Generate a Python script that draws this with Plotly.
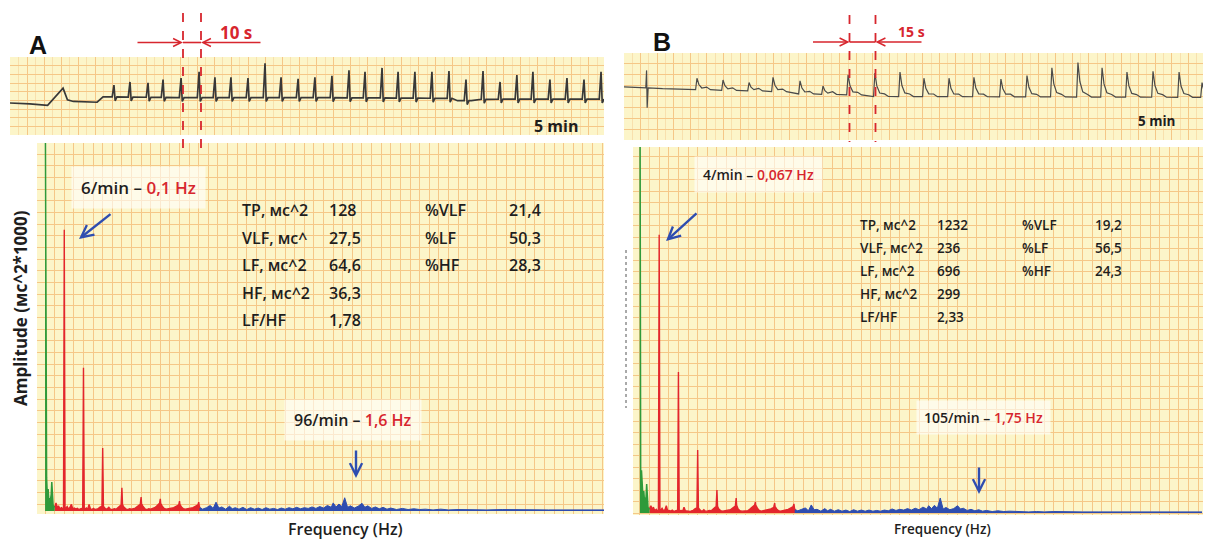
import numpy as np
import plotly.graph_objects as go

W, H = 1210, 542
def PX(x): return x / W
def PY(y): return 1 - y / H

# ---------------- DATA ----------------
# Panel A – recording (time in s, amplitude in arbitrary units)
base_t_a = [0, 10, 19, 23, 26.8, 29, 32, 44, 47, 84, 150, 222, 226, 233, 240, 300]
base_v_a = [0.41, 0.40, 0.38, 0.50, 0.60, 0.45, 0.43, 0.42, 0.49, 0.48, 0.48, 0.47, 0.44, 0.44, 0.46, 0.46]
spike_t_a = [52.5, 60.6, 69.7, 77.3, 86.4, 95.5, 103.5, 111.6, 120.2, 128.8, 136.9, 145.5, 154.0,
             162.6, 171.2, 179.3, 187.9, 196.0, 204.5, 213.1, 221.7, 230.3, 238.9, 247.5, 256.0,
             264.1, 272.7, 281.3, 289.9, 298.5]
spike_h_a = [0.64, 0.68, 0.67, 0.71, 0.73, 0.81, 0.74, 0.74, 0.73, 0.92, 0.74, 0.72, 0.74,
             0.76, 0.83, 0.81, 0.86, 0.81, 0.81, 0.81, 0.82, 0.71, 0.82, 0.68, 0.77,
             0.81, 0.71, 0.73, 0.71, 0.81]

# Panel B – recording
base_t_b = [0, 11.3, 11.7, 12.0, 12.5, 20, 50, 75, 90, 115, 130, 300]
base_v_b = [0.61, 0.60, 0.80, 0.37, 0.60, 0.59, 0.57, 0.56, 0.53, 0.52, 0.50, 0.49]
spike_t_b = [37.8, 51.3, 64.8, 77.2, 91.2, 103.1, 116.1, 130.0, 143.0, 155.4, 168.4, 181.3,
             195.3, 208.8, 221.7, 235.2, 247.7, 260.6, 274.1, 287.6, 299.5]
spike_h_b = [0.71, 0.69, 0.66, 0.72, 0.68, 0.62, 0.75, 0.77, 0.78, 0.71, 0.71, 0.72,
             0.70, 0.74, 0.83, 0.89, 0.83, 0.78, 0.79, 0.78, 0.66]

# Spectra (frequency in Hz, amplitude in relative units)
vlf_f = [0.000, 0.004, 0.008, 0.012, 0.016, 0.020, 0.024, 0.028, 0.032, 0.035, 0.038, 0.042, 0.046, 0.050]
vlf_amp_a = [1.30, 0.117, 0.090, 0.040, 0.060, 0.025, 0.035, 0.030, 0.045, 0.079, 0.025, 0.015, 0.012, 0.010]
vlf_amp_b = [1.30, 0.080, 0.117, 0.050, 0.040, 0.060, 0.030, 0.035, 0.045, 0.079, 0.030, 0.015, 0.012, 0.010]

lf_peak_f = [0.1, 0.2, 0.3, 0.4, 0.5, 0.6, 0.7, 0.8]
lf_peak_amp_a = [0.764, 0.389, 0.171, 0.063, 0.038, 0.033, 0.027, 0.024]
lf_peak_amp_b = [0.760, 0.385, 0.172, 0.063, 0.041, 0.030, 0.027, 0.025]

lf_floor_f = [0.050, 0.057, 0.064, 0.070, 0.077, 0.085, 0.092, 0.108, 0.115, 0.122, 0.130, 0.137,
              0.144, 0.152, 0.160, 0.168, 0.176, 0.184, 0.192, 0.208, 0.215, 0.222, 0.229, 0.236,
              0.244, 0.252, 0.260, 0.268, 0.276, 0.284, 0.292, 0.308, 0.316, 0.324, 0.332, 0.340,
              0.350, 0.360, 0.370, 0.380, 0.390, 0.396, 0.404, 0.410, 0.420, 0.430, 0.440, 0.450,
              0.460, 0.470, 0.480, 0.490, 0.496, 0.504, 0.510, 0.520, 0.530, 0.540, 0.550, 0.560,
              0.570, 0.580, 0.590, 0.596, 0.604, 0.610, 0.620, 0.630, 0.640, 0.650, 0.660, 0.670,
              0.680, 0.690, 0.696, 0.704, 0.710, 0.720, 0.730, 0.740, 0.750, 0.760, 0.770, 0.780,
              0.790, 0.796, 0.804]
lf_floor_amp_a = [0.010, 0.022, 0.008, 0.014, 0.006, 0.009, 0.006, 0.007, 0.012, 0.005, 0.010, 0.018,
                  0.006, 0.008, 0.005, 0.007, 0.004, 0.006, 0.008, 0.005, 0.008, 0.004, 0.018, 0.006,
                  0.004, 0.007, 0.004, 0.005, 0.006, 0.010, 0.012, 0.010, 0.005, 0.006, 0.010, 0.005,
                  0.004, 0.006, 0.005, 0.010, 0.014, 0.018, 0.016, 0.011, 0.006, 0.004, 0.006, 0.005,
                  0.006, 0.008, 0.012, 0.016, 0.020, 0.018, 0.012, 0.006, 0.004, 0.006, 0.005, 0.006,
                  0.009, 0.013, 0.018, 0.021, 0.019, 0.013, 0.007, 0.005, 0.006, 0.005, 0.007, 0.009,
                  0.012, 0.015, 0.017, 0.016, 0.011, 0.006, 0.005, 0.006, 0.006, 0.007, 0.009, 0.012,
                  0.015, 0.017, 0.014]
lf_floor_amp_b = [0.012, 0.020, 0.009, 0.016, 0.006, 0.010, 0.005, 0.008, 0.013, 0.006, 0.009, 0.020,
                  0.006, 0.007, 0.005, 0.008, 0.004, 0.006, 0.009, 0.006, 0.007, 0.005, 0.016, 0.006,
                  0.005, 0.006, 0.004, 0.006, 0.007, 0.011, 0.013, 0.011, 0.006, 0.005, 0.009, 0.005,
                  0.005, 0.007, 0.006, 0.011, 0.015, 0.019, 0.017, 0.011, 0.006, 0.005, 0.006, 0.006,
                  0.007, 0.009, 0.013, 0.017, 0.021, 0.019, 0.011, 0.006, 0.005, 0.006, 0.005, 0.006,
                  0.010, 0.014, 0.019, 0.022, 0.020, 0.013, 0.007, 0.005, 0.006, 0.006, 0.007, 0.009,
                  0.011, 0.014, 0.018, 0.016, 0.011, 0.006, 0.005, 0.006, 0.007, 0.008, 0.010, 0.013,
                  0.016, 0.018, 0.013]

hf_points_a = [(0.800, 0.012), (0.820, 0.005), (0.840, 0.009), (0.860, 0.015), (0.875, 0.007),
               (0.890, 0.024), (0.905, 0.008), (0.920, 0.011), (0.940, 0.005), (0.960, 0.013),
               (0.975, 0.006), (0.990, 0.009), (1.010, 0.005), (1.030, 0.010), (1.050, 0.004),
               (1.070, 0.009), (1.090, 0.005), (1.110, 0.008), (1.130, 0.004), (1.150, 0.009),
               (1.170, 0.005), (1.190, 0.007), (1.210, 0.004), (1.230, 0.008), (1.250, 0.005),
               (1.270, 0.009), (1.290, 0.006), (1.310, 0.010), (1.330, 0.006), (1.350, 0.009),
               (1.370, 0.007), (1.390, 0.011), (1.410, 0.007), (1.430, 0.012), (1.450, 0.008),
               (1.470, 0.015), (1.490, 0.010), (1.500, 0.022), (1.515, 0.011), (1.530, 0.019),
               (1.545, 0.012), (1.560, 0.036), (1.575, 0.010), (1.590, 0.014), (1.610, 0.008),
               (1.630, 0.013), (1.650, 0.021), (1.665, 0.010), (1.680, 0.014), (1.700, 0.007),
               (1.720, 0.011), (1.740, 0.006), (1.760, 0.010), (1.780, 0.005), (1.800, 0.008),
               (1.830, 0.004), (1.860, 0.007), (1.890, 0.004), (1.920, 0.006), (1.950, 0.004),
               (1.980, 0.005), (2.020, 0.003), (2.060, 0.005), (2.100, 0.003), (2.150, 0.004),
               (2.200, 0.003), (2.250, 0.004), (2.300, 0.003), (2.380, 0.004), (2.460, 0.003),
               (2.540, 0.003), (2.620, 0.003), (2.700, 0.003), (2.780, 0.003), (2.860, 0.003),
               (2.920, 0.003)]
hf_points_b = [(0.800, 0.011), (0.820, 0.006), (0.840, 0.010), (0.860, 0.014), (0.875, 0.006),
               (0.890, 0.022), (0.905, 0.009), (0.920, 0.010), (0.940, 0.005), (0.960, 0.012),
               (0.975, 0.006), (0.990, 0.010), (1.010, 0.005), (1.030, 0.009), (1.050, 0.005),
               (1.070, 0.008), (1.090, 0.004), (1.110, 0.009), (1.130, 0.005), (1.150, 0.008),
               (1.170, 0.005), (1.190, 0.008), (1.210, 0.005), (1.230, 0.007), (1.250, 0.005),
               (1.270, 0.008), (1.290, 0.006), (1.310, 0.011), (1.330, 0.007), (1.350, 0.010),
               (1.370, 0.008), (1.390, 0.012), (1.410, 0.008), (1.430, 0.013), (1.450, 0.009),
               (1.470, 0.016), (1.490, 0.011), (1.500, 0.020), (1.515, 0.012), (1.530, 0.021),
               (1.545, 0.013), (1.560, 0.041), (1.575, 0.011), (1.590, 0.015), (1.610, 0.009),
               (1.630, 0.012), (1.650, 0.020), (1.665, 0.011), (1.680, 0.013), (1.700, 0.007),
               (1.720, 0.010), (1.740, 0.006), (1.760, 0.009), (1.780, 0.005), (1.800, 0.007),
               (1.830, 0.004), (1.860, 0.006), (1.890, 0.004), (1.920, 0.005), (1.950, 0.004),
               (1.980, 0.005), (2.020, 0.003), (2.060, 0.004), (2.100, 0.003), (2.150, 0.004),
               (2.200, 0.003), (2.250, 0.003), (2.300, 0.003), (2.380, 0.003), (2.460, 0.003),
               (2.540, 0.003), (2.620, 0.003), (2.700, 0.003), (2.780, 0.003), (2.860, 0.003),
               (2.920, 0.003)]

stat_labels_a = ["TP, мс^2", "VLF, мс^", "LF, мс^2", "HF, мс^2", "LF/HF"]
stat_values_a = ["128", "27,5", "64,6", "36,3", "1,78"]
stat_labels_b = ["TP, мс^2", "VLF, мс^2", "LF, мс^2", "HF, мс^2", "LF/HF"]
stat_values_b = ["1232", "236", "696", "299", "2,33"]
pct_labels = ["%VLF", "%LF", "%HF"]
pct_values_a = ["21,4", "50,3", "28,3"]
pct_values_b = ["19,2", "56,5", "24,3"]

# ---------------- helpers ----------------
def sharp_trace(bt, bv, st, sh):
    pts = [(t, v) for t, v in zip(bt, bv) if all(abs(t - s) > 2 for s in st)]
    for t, h in zip(st, sh):
        b = float(np.interp(t, bt, bv))
        pts += [(t - 0.9, b), (t, h), (t + 0.6, b - 0.05), (t + 1.5, b)]
    pts.sort()
    return [p[0] for p in pts], [p[1] for p in pts]

def fin_trace(bt, bv, st, sh):
    pts = [(t, v) for t, v in zip(bt, bv) if all(abs(t - s) > 7 for s in st)]
    for t, h in zip(st, sh):
        b = float(np.interp(t, bt, bv))
        pts += [(t - 0.7, b), (t, h), (t + 1.0, b + 0.45 * (h - b)),
                (t + 2.5, b + 0.15 * (h - b)), (t + 5, b + 0.03), (t + 7, b)]
    pts.sort()
    return [p[0] for p in pts], [p[1] for p in pts]

def lf_series(ff, fa, pf, pa):
    pts = list(zip(ff, fa))
    for f, a in zip(pf, pa):
        pts += [(f - 0.004, 0.008), (f, a), (f + 0.004, 0.008)]
    pts.sort()
    return [p[0] for p in pts], [p[1] for p in pts]

RED = "#e3262c"
GREEN = "#2f9a3a"
BLUE = "#2e4db0"
BG = "#fcf5c9"
GRID = "#f5c787"

fig = go.Figure()

ta_x, ta_y = sharp_trace(base_t_a, base_v_a, spike_t_a, spike_h_a)
tb_x, tb_y = fin_trace(base_t_b, base_v_b, spike_t_b, spike_h_b)
fig.add_trace(go.Scatter(x=ta_x, y=ta_y, mode="lines", line=dict(color="#383838", width=1.7),
                         xaxis="x", yaxis="y", showlegend=False))
fig.add_trace(go.Scatter(x=tb_x, y=tb_y, mode="lines", line=dict(color="#4a4a4a", width=1.2),
                         xaxis="x3", yaxis="y3", showlegend=False))

for (xa, ya, vamp, pamp, famp, hpts) in [("x2", "y2", vlf_amp_a, lf_peak_amp_a, lf_floor_amp_a, hf_points_a),
                                         ("x4", "y4", vlf_amp_b, lf_peak_amp_b, lf_floor_amp_b, hf_points_b)]:
    lx, ly = lf_series(lf_floor_f, famp, lf_peak_f, pamp)
    hx = [p[0] for p in hpts]
    hy = [p[1] for p in hpts]
    fig.add_trace(go.Scatter(x=hx, y=hy, mode="lines", fill="tozeroy", fillcolor=BLUE,
                             line=dict(color=BLUE, width=1), xaxis=xa, yaxis=ya, showlegend=False))
    fig.add_trace(go.Scatter(x=lx, y=ly, mode="lines", fill="tozeroy", fillcolor=RED,
                             line=dict(color=RED, width=1.4), xaxis=xa, yaxis=ya, showlegend=False))
    fig.add_trace(go.Scatter(x=vlf_f, y=vamp, mode="lines", fill="tozeroy", fillcolor=GREEN,
                             line=dict(color=GREEN, width=1.5), xaxis=xa, yaxis=ya, showlegend=False))

def ax(domain, rng, dtick, tick0=0, minor=None, anchor=None):
    d = dict(domain=domain, range=rng, showticklabels=False, zeroline=False, showline=False,
             ticks="", showgrid=True, gridcolor=GRID, gridwidth=1, dtick=dtick, tick0=tick0,
             fixedrange=True)
    if minor:
        d["minor"] = dict(dtick=minor, showgrid=True, gridcolor="#f8e0ad", gridwidth=1, ticks="")
    if anchor:
        d["anchor"] = anchor
    return d

layout = dict(
    width=W, height=H, margin=dict(l=0, r=0, t=0, b=0),
    paper_bgcolor="white", plot_bgcolor=BG, showlegend=False,
    xaxis=ax([PX(10), PX(604)], [0, 300], 8.6, minor=4.3, anchor="y"),
    yaxis=ax([PY(135), PY(57)], [0, 1], 1 / 9, anchor="x"),
    xaxis2=ax([PX(37), PX(604)], [-0.042, 2.91], 0.05, anchor="y2"),
    yaxis2=ax([PY(514), PY(143)], [-3 / 368, 1.0], 0.0317, tick0=0.019, anchor="x2"),
    xaxis3=ax([PX(624), PX(1203)], [0, 300], 8.6, minor=4.3, anchor="y3"),
    yaxis3=ax([PY(140), PY(53)], [0, 1], 0.125, anchor="x3"),
    xaxis4=ax([PX(633), PX(1203)], [-0.036, 2.925], 0.05, anchor="y4"),
    yaxis4=ax([PY(515), PY(147)], [-2 / 366, 1.0], 0.0314, anchor="x4"),
)
fig.update_layout(**layout)

FONT = "Open Sans, Noto Sans, sans-serif"
DARK = "#1e1e1e"
TRED = "#d7262e"
anns = []

def txt(x, y, text, size, color=DARK, weight=600, xanchor="center", family=FONT, **kw):
    anns.append(dict(x=PX(x), y=PY(y), xref="paper", yref="paper", text=text, showarrow=False,
                     xanchor=xanchor, yanchor="middle",
                     font=dict(family=family, size=size, color=color, weight=weight), **kw))

def arrow(tipx, tipy, tailx, taily, color, width, head=5, size=1.0):
    anns.append(dict(x=PX(tipx), y=PY(tipy), xref="paper", yref="paper", text="", showarrow=True,
                     axref="pixel", ayref="pixel", ax=tailx - tipx, ay=taily - tipy,
                     arrowhead=head, arrowsize=size, arrowwidth=width, arrowcolor=color, standoff=0))

# Panel letters
txt(38, 45, "A", 25, color="#111", weight=700, family="Liberation Sans, Arial, sans-serif")
txt(662, 42, "B", 25, color="#111", weight=700, family="Liberation Sans, Arial, sans-serif")

# Time marks
txt(236, 33, "10 s", 17, color=TRED, weight=700)
txt(911, 32, "15 s", 14, color=TRED, weight=700)
arrow(183, 42.5, 136, 42.5, TRED, 1.6)
arrow(201, 42.5, 262, 42.5, TRED, 1.6)
arrow(849.5, 42, 811.5, 42, TRED, 1.6)
arrow(875.5, 42, 923, 42, TRED, 1.6)

txt(556, 126, "5 min", 16, weight=700)
txt(1156, 121, "5 min", 13.5, weight=700)

# Peak labels
box = "rgba(255,255,255,0.6)"
txt(138, 187, "6/min – <span style='color:%s'>0,1 Hz</span>" % TRED, 17, bgcolor=box, borderpad=9)
txt(758, 174, "4/min – <span style='color:%s'>0,067 Hz</span>" % TRED, 14, bgcolor=box, borderpad=8)
txt(353, 420, "96/min – <span style='color:%s'>1,6 Hz</span>" % TRED, 16, bgcolor=box, borderpad=9)
txt(983, 417, "105/min – <span style='color:%s'>1,75 Hz</span>" % TRED, 14, bgcolor=box, borderpad=7)

arrow(79, 239, 112, 213, BLUE, 2.4, head=5, size=1.0)
arrow(666, 241, 698, 212, BLUE, 2.4, head=5, size=1.0)
arrow(356, 478, 356, 449, BLUE, 2.4, head=5, size=1.0)
arrow(979, 494, 979, 466, BLUE, 2.4, head=5, size=1.0)

# Stats tables
SW = 650
rows_a = [210, 237.5, 265, 292.5, 320]
for i, (l, v) in enumerate(zip(stat_labels_a, stat_values_a)):
    txt(240, rows_a[i], l, 16, xanchor="left", weight=SW)
    txt(327, rows_a[i], v, 16, xanchor="left", weight=SW)
for i, (l, v) in enumerate(zip(pct_labels, pct_values_a)):
    txt(423, rows_a[i], l, 16, xanchor="left", weight=SW)
    txt(507, rows_a[i], v, 16, xanchor="left", weight=SW)
rows_b = [225, 248, 271, 294, 317]
for i, (l, v) in enumerate(zip(stat_labels_b, stat_values_b)):
    txt(858, rows_b[i], l, 13.5, xanchor="left", weight=SW)
    txt(935, rows_b[i], v, 13.5, xanchor="left", weight=SW)
for i, (l, v) in enumerate(zip(pct_labels, pct_values_b)):
    txt(1020, rows_b[i], l, 13.5, xanchor="left", weight=SW)
    txt(1093, rows_b[i], v, 13.5, xanchor="left", weight=SW)

# Axis titles
txt(20, 308, "Amplitude (мс^2*1000)", 17, weight=700, textangle=-90)
txt(345, 529, "Frequency (Hz)", 16)
txt(942, 529, "Frequency (Hz)", 13.5)

fig.update_layout(annotations=anns)

# Dashed time markers and connecting segments
shapes = []
for x, y0, y1 in [(183, 13, 150), (201, 13, 150), (849.5, 15, 142), (875.5, 15, 142)]:
    shapes.append(dict(type="line", xref="paper", yref="paper", x0=PX(x), x1=PX(x),
                       y0=PY(y0), y1=PY(y1), line=dict(color=TRED, width=1.8, dash="dash"),
                       layer="above"))
shapes.append(dict(type="line", xref="paper", yref="paper", x0=PX(183), x1=PX(201),
                   y0=PY(42.5), y1=PY(42.5), line=dict(color=TRED, width=1.6), layer="above"))
shapes.append(dict(type="line", xref="paper", yref="paper", x0=PX(849.5), x1=PX(875.5),
                   y0=PY(42), y1=PY(42), line=dict(color=TRED, width=1.6), layer="above"))
shapes.append(dict(type="line", xref="paper", yref="paper", x0=PX(626), x1=PX(626),
                   y0=PY(250), y1=PY(408), line=dict(color="#555", width=1, dash="dot"),
                   layer="above"))
fig.update_layout(shapes=shapes)

fig.write_html("out.html", config={"displayModeBar": False},
               post_script="document.body.style.margin='0px';document.body.style.overflow='hidden';")
